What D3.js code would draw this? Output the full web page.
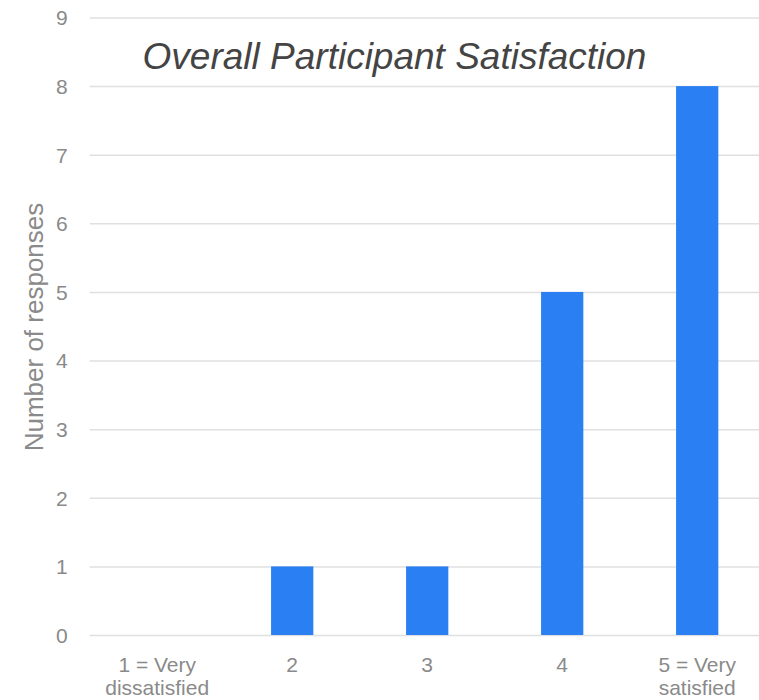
<!DOCTYPE html>
<html>
<head>
<meta charset="utf-8">
<script src="https://cdn.jsdelivr.net/npm/d3@7"></script>
<style>
  html, body { margin: 0; padding: 0; background: #fff; }
  svg { display: block; }
  text { font-family: "Liberation Sans", Arial, sans-serif; }
</style>
</head>
<body>
<svg id="chart" width="759" height="700"></svg>
<script>
// Survey answers: rating categories and how many responses each received
const categories = ["1 = Very\ndissatisfied", "2", "3", "4", "5 = Very\nsatisfied"];
const responses = [0, 1, 1, 5, 8];
const yTicks = [0, 1, 2, 3, 4, 5, 6, 7, 8, 9];
const chartTitle = "Overall Participant Satisfaction";
const yLabel = "Number of responses";

const svg = d3.select("#chart");
const W = 759, H = 700;
const plot = { left: 89.7, right: 764.7, top: 17.5, bottom: 635 };

const x = d3.scaleBand()
  .domain(categories)
  .range([plot.left, plot.right])
  .paddingInner(0.687)
  .paddingOuter(0.3435);

const y = d3.scaleLinear()
  .domain([0, 9])
  .range([plot.bottom, plot.top]);

// Horizontal gridlines with tick labels
const yAxis = d3.axisLeft(y)
  .tickValues(yTicks)
  .tickSize(-(W - plot.left))
  .tickPadding(22)
  .tickFormat(d3.format("d"));

const gy = svg.append("g")
  .attr("transform", `translate(${plot.left},0)`)
  .call(yAxis);
gy.select(".domain").remove();
gy.selectAll(".tick line").attr("stroke", "#e0e0e0").attr("stroke-width", 1.5);
gy.selectAll(".tick text")
  .attr("fill", "#8a8a8a")
  .style("font-size", "21px")
  .attr("dy", "0.35em");

// Bars
svg.append("g")
  .selectAll("rect")
  .data(categories.map((c, i) => ({ c, v: responses[i] })))
  .join("rect")
  .attr("x", d => x(d.c))
  .attr("width", x.bandwidth())
  .attr("y", d => y(d.v))
  .attr("height", d => y(0) - y(d.v))
  .attr("fill", "#2a7ff2");

// Category labels (two lines where needed)
const xl = svg.append("g");
categories.forEach(c => {
  const cx = x(c) + x.bandwidth() / 2;
  const t = xl.append("text")
    .attr("x", cx)
    .attr("y", 672)
    .attr("text-anchor", "middle")
    .attr("fill", "#8a8a8a")
    .style("font-size", "21px");
  c.split("\n").forEach((ln, i) => {
    t.append("tspan")
      .attr("x", cx)
      .attr("dy", i === 0 ? 0 : 23)
      .text(ln);
  });
});

// Y axis title
svg.append("text")
  .attr("transform", `translate(43,327) rotate(-90)`)
  .attr("text-anchor", "middle")
  .attr("fill", "#8a8a8a")
  .style("font-size", "26px")
  .text(yLabel);

// Chart title
svg.append("text")
  .attr("x", 394.5)
  .attr("y", 69)
  .attr("text-anchor", "middle")
  .attr("fill", "#444")
  .style("font-size", "37px")
  .style("font-style", "italic")
  .text(chartTitle);
</script>
</body>
</html>
